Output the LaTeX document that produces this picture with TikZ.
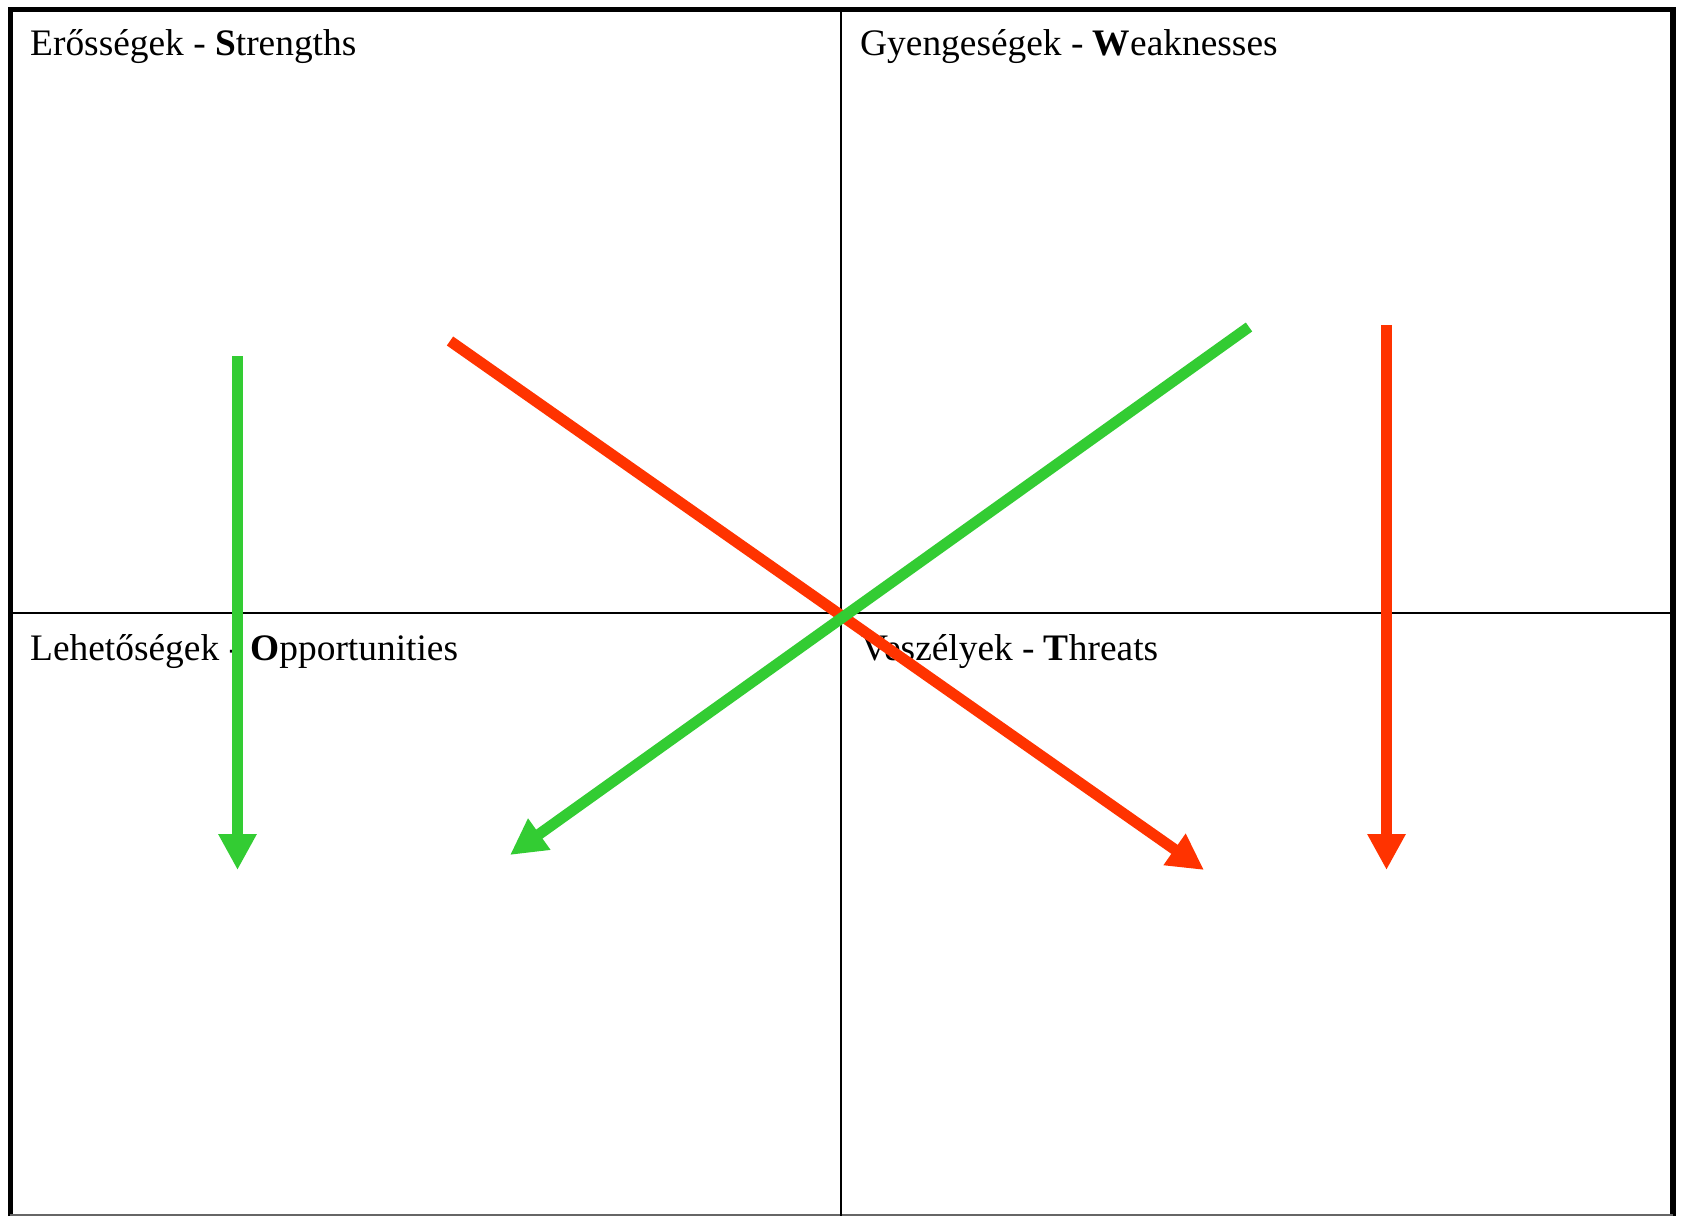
\documentclass[tikz,border=0pt]{standalone}
\usepackage{fontspec}
\setmainfont{Liberation Serif}
\usetikzlibrary{arrows.meta}
\definecolor{swgreen}{RGB}{51,204,51}
\definecolor{swred}{RGB}{255,51,0}
\begin{document}
\begin{tikzpicture}[x=1pt,y=-1pt,
  frame/.style={line width=5.5pt,black},
  divider/.style={line width=2.5pt,black},
  label/.style={anchor=base west,inner sep=0pt,font=\fontsize{37.4}{44}\selectfont},
  arr/.style={line width=11pt,-{Triangle[width=36pt,length=36pt]}},
  garr/.style={arr,swgreen},
  rarr/.style={arr,swred}]
\useasboundingbox (0,0) rectangle (1681,1216);
\fill[white] (0,0) rectangle (1681,1216);
% frame
\draw[frame] (10.3,1216) -- (10.3,9.3) -- (1673,9.3) -- (1673,1216);
\draw[line width=1.5pt,black!60] (10,1215.2) -- (1673,1215.2);
% dividers
\draw[divider] (841,9) -- (841,1216);
\draw[divider] (10,613) -- (1673,613);
% labels
\node[label] (s) at (30,55) {Erősségek - \textbf{S}trengths};
\node[label] (w) at (860,55) {Gyengeségek - \textbf{W}eaknesses};
\node[label] (o) at (30,660) {Lehetőségek - \textbf{O}pportunities};
\node[label] (t) at (861,660) {Veszélyek - \textbf{T}hreats};
% arrow end points
\coordinate (g1s) at (237.5,356);
\coordinate (g1e) at (237.5,870);
\coordinate (g2s) at (1249,327);
\coordinate (g2e) at (510,855);
\coordinate (r1s) at (450,341);
\coordinate (r1e) at (1204,870);
\coordinate (r2s) at (1386.5,325);
\coordinate (r2e) at (1386.5,870);
% arrows
\draw[garr] (g1s) -- (g1e);
\draw[rarr] (r1s) -- (r1e);
\draw[garr] (g2s) -- (g2e);
\draw[rarr] (r2s) -- (r2e);
\end{tikzpicture}
\end{document}
